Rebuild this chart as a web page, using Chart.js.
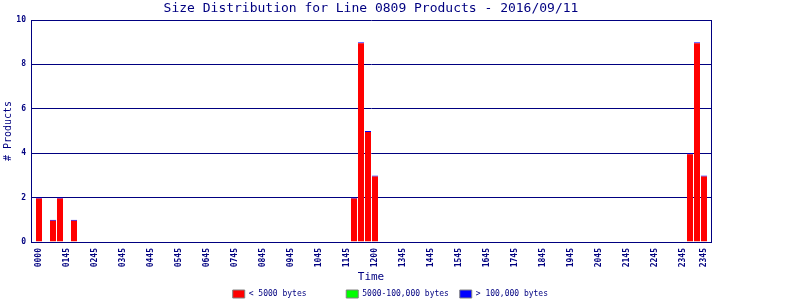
<!DOCTYPE html>
<html>
<head>
<meta charset="utf-8">
<script src="https://cdn.jsdelivr.net/npm/chart.js@4/dist/chart.umd.min.js"></script>
<style>
  html, body { margin: 0; padding: 0; background: #fff; }
  #wrap { width: 800px; height: 300px; }
</style>
</head>
<body>
<div id="wrap"><canvas id="sizeChart"></canvas></div>
<script>
// 15 minute bins over the day, 0000 .. 2345
const timeBins = [];
for (let h = 0; h < 24; h++) {
  for (let m = 0; m < 60; m += 15) {
    timeBins.push(String(h).padStart(2, '0') + String(m).padStart(2, '0'));
  }
}

// products per bin, < 5000 bytes
const smallCounts = [
  2, 0, 1, 2, 0, 1, 0, 0, 0, 0, 0, 0,
  0, 0, 0, 0, 0, 0, 0, 0, 0, 0, 0, 0,
  0, 0, 0, 0, 0, 0, 0, 0, 0, 0, 0, 0,
  0, 0, 0, 0, 0, 0, 0, 0, 0, 2, 9, 5,
  3, 0, 0, 0, 0, 0, 0, 0, 0, 0, 0, 0,
  0, 0, 0, 0, 0, 0, 0, 0, 0, 0, 0, 0,
  0, 0, 0, 0, 0, 0, 0, 0, 0, 0, 0, 0,
  0, 0, 0, 0, 0, 0, 0, 0, 0, 4, 9, 3
];
// nothing in the bigger size classes that day
const mediumCounts = [];
const largeCounts = [];

// x tick labels as printed on the original
const tickBins  = [0, 4, 8, 12, 16, 20, 24, 28, 32, 36, 40, 44, 48, 52, 56, 60, 64, 68, 72, 76, 80, 84, 88, 92, 95];
const tickTexts = ['0000', '0145', '0245', '0345', '0445', '0545', '0645', '0745', '0845', '0945', '1045', '1145',
                   '1200', '1345', '1445', '1545', '1645', '1745', '1845', '1945', '2045', '2145', '2245', '2345', '2345'];

const yTicks = [0, 2, 4, 6, 8, 10];

const navy = '#000080';
const mono = "'DejaVu Sans Mono', monospace";

const config = {
  type: 'bar',
  data: {
    labels: timeBins,
    datasets: [
      {
        label: '< 5000 bytes',
        data: smallCounts,
        backgroundColor: '#ff0000',
        borderColor: '#0000ff',
        borderWidth: { top: 1, right: 0, bottom: 0, left: 0 },
        borderSkipped: false,
        inflateAmount: 0,
        barThickness: 6
      },
      {
        label: '5000-100,000 bytes',
        data: mediumCounts,
        backgroundColor: '#00ff00',
        inflateAmount: 0,
        barThickness: 6
      },
      {
        label: '> 100,000 bytes',
        data: largeCounts,
        backgroundColor: '#0000ff',
        inflateAmount: 0,
        barThickness: 6
      }
    ]
  },
  options: {
    responsive: true,
    maintainAspectRatio: false,
    animation: false,
    layout: {
      padding: 0
    },
    scales: {
      x: {
        stacked: true,
        offset: true,
        // the original leaves a little extra room at both ends of the day
        afterBuildTicks: (scale) => {
          scale._startValue -= 0.643;
          scale._valueRange += 1.143;
        },
        afterFit: (scale) => { scale.height = 42; },
        grid: { display: false, drawTicks: false },
        border: { display: true, color: navy },
        ticks: {
          autoSkip: false,
          minRotation: 90,
          maxRotation: 90,
          padding: 6,
          color: navy,
          font: { family: mono, size: 8, weight: 'bold' },
          callback: (v, i) => {
            const k = tickBins.indexOf(i);
            return k >= 0 ? tickTexts[k] : '';
          }
        },
        title: {
          display: true,
          text: 'Time',
          color: navy,
          font: { family: mono, size: 11 },
          padding: { top: 4, bottom: 0 }
        }
      },
      y: {
        stacked: true,
        min: 0,
        max: 10,
        afterFit: (scale) => { scale.width = 31; },
        afterBuildTicks: (scale) => { scale.ticks = yTicks.map(v => ({ value: v })); },
        grid: { color: navy, drawTicks: false },
        border: { display: true, color: navy },
        ticks: {
          padding: 5,
          color: navy,
          font: { family: mono, size: 8, weight: 'bold' }
        },
        title: {
          display: true,
          text: '# Products',
          color: navy,
          font: { family: mono, size: 10 },
          padding: { top: 2, bottom: 0 }
        }
      },
      // empty right axis: draws the right frame line and keeps the blank margin
      yRight: {
        position: 'right',
        display: true,
        afterFit: (scale) => { scale.width = 89; },
        grid: { display: false, drawTicks: false },
        ticks: { display: false },
        border: { display: true, color: navy }
      }
    },
    plugins: {
      title: {
        display: true,
        fullSize: false,
        text: 'Size Distribution for Line 0809 Products - 2016/09/11',
        color: navy,
        font: { family: mono, size: 13, weight: 'normal' },
        padding: { top: 1, bottom: 3.4 }
      },
      legend: {
        position: 'bottom',
        maxHeight: 16,
        labels: {
          boxWidth: 12,
          boxHeight: 8,
          padding: 6,
          color: navy,
          font: { family: mono, size: 8 },
          generateLabels: (chart) => chart.data.datasets.map((ds, i) => ({
            text: ds.label.padEnd(19),
            fillStyle: ds.backgroundColor,
            strokeStyle: '#808080',
            lineWidth: 1,
            fontColor: navy,
            hidden: false,
            datasetIndex: i
          }))
        }
      },
      tooltip: { enabled: false }
    }
  }
};

new Chart(document.getElementById('sizeChart'), config);
</script>
</body>
</html>
